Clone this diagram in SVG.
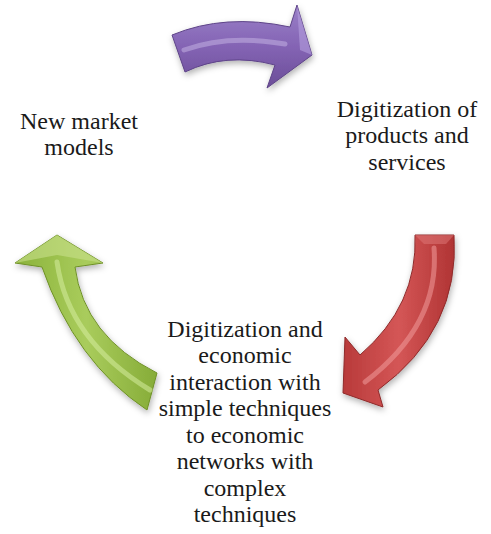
<svg xmlns="http://www.w3.org/2000/svg" width="491" height="534" viewBox="0 0 491 534">
<style>
.hl{fill:none;stroke-linecap:round;opacity:.55}
.edge{stroke-width:1;stroke-linejoin:round}
</style>
<defs>
<filter id="sh" x="-20%" y="-20%" width="140%" height="140%">
<feDropShadow dx="1" dy="3" stdDeviation="3" flood-color="#000" flood-opacity=".3"/>
</filter>
<linearGradient id="gp" x1="0" y1="0" x2="0" y2="1">
<stop offset="0" stop-color="#9a80c8"/><stop offset=".5" stop-color="#8464b4"/><stop offset="1" stop-color="#6b4d98"/>
</linearGradient>
<linearGradient id="gr" x1="0" y1="0" x2="1" y2="0">
<stop offset="0" stop-color="#b83a3a"/><stop offset=".5" stop-color="#d45656"/><stop offset="1" stop-color="#b03434"/>
</linearGradient>
<linearGradient id="gg" x1="0" y1="0" x2="1" y2="0">
<stop offset="0" stop-color="#8ab23a"/><stop offset=".5" stop-color="#a9cc5c"/><stop offset="1" stop-color="#86ac38"/>
</linearGradient>
</defs>
<g id="connectors">
<g id="arrow-purple" filter="url(#sh)">
<path class="edge" d="M172,35 Q225,13 290,27 L297,5 L312,55 L267,88 L275,65 Q226,52 185,72 Z" fill="url(#gp)" stroke="#5e4488"/>
<path class="hl" d="M184,50 Q228,34 285,44" stroke="#c2b0e2" stroke-width="5"/>
<path fill="#b49ede" opacity=".6" d="M297,5 L312,55 L300,50 Z"/>
</g>
<g id="arrow-red" filter="url(#sh)">
<path class="edge" d="M415,235 L454,235 Q460,330 378,390 L383,407 L343,393 L345,337 L360,355 Q418,305 415,235 Z" fill="url(#gr)" stroke="#8e2a2a"/>
<path class="hl" d="M434,248 Q440,325 365,382" stroke="#f09a9a" stroke-width="5"/>
<path fill="#e07a7a" opacity=".5" d="M415,235 L454,235 L446,244 L424,244 Z"/>
</g>
<g id="arrow-green" filter="url(#sh)">
<path class="edge" d="M57,235 L103,263 L75,267 Q84,336 157,373 L147,410 Q75,362 42,267 L15,263 Z" fill="url(#gg)" stroke="#6f9128"/>
<path class="hl" d="M57,262 Q68,340 150,390" stroke="#d6ec9e" stroke-width="5"/>
<path fill="#c8e08a" opacity=".6" d="M57,235 L103,263 L57,255 L15,263 Z"/>
</g>
</g>
<g font-family="Liberation Serif, DejaVu Serif, serif" font-size="24" fill="#1a1a1a" text-anchor="middle">
<g id="node-new-market">
<text x="79" y="129">New market</text>
<text x="79" y="155">models</text>
</g>
<g id="node-digitization-products">
<text x="407" y="117">Digitization of</text>
<text x="407" y="143">products and</text>
<text x="407" y="170">services</text>
</g>
<g id="node-digitization-economic">
<text x="245" y="337">Digitization and</text>
<text x="245" y="363">economic</text>
<text x="245" y="390">interaction with</text>
<text x="245" y="416">simple techniques</text>
<text x="245" y="443">to economic</text>
<text x="245" y="469">networks with</text>
<text x="245" y="496">complex</text>
<text x="245" y="522">techniques</text>
</g>
</g>
</svg>
